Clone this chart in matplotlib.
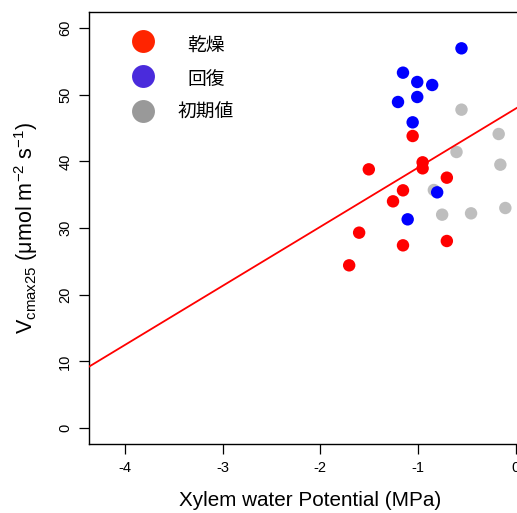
import matplotlib
matplotlib.use("Agg")
import matplotlib.pyplot as plt

# Data
dry_x = [-1.054, -0.952, -0.952, -1.503, -0.704, -1.153, -1.255, -1.602, -1.153, -0.704, -1.704]
dry_y = [43.8, 39.85, 38.95, 38.8, 37.55, 35.65, 34.0, 29.3, 27.4, 28.05, 24.4]

rec_x = [-0.554, -1.153, -1.007, -0.854, -1.007, -1.204, -1.054, -0.803, -1.105]
rec_y = [56.95, 53.3, 51.9, 51.45, 49.65, 48.9, 45.85, 35.35, 31.3]

ini_x = [-0.554, -0.173, -0.605, -0.156, -0.837, -0.752, -0.456, -0.105]
ini_y = [47.75, 44.1, 41.4, 39.5, 35.7, 32.0, 32.2, 33.0]

line_intercept = 47.9
line_slope = 8.86

legend_labels = ["乾燥", "回復", "初期値"]
legend_colors = ["#FF2400", "#4A2BDC", "#999999"]

xticks = [-4, -3, -2, -1, 0]
yticks = [0, 10, 20, 30, 40, 50, 60]

plt.rcParams['font.family'] = ['Liberation Sans', 'DejaVu Sans']

fig = plt.figure(figsize=(5.17, 5.13), dpi=100)
ax = fig.add_axes([89/517, 69/513, (532-89)/517, (444-12)/513])

ax.set_xlim(-4.368, 0.168)
ax.set_ylim(-2.4, 62.4)

ms = 80
ax.scatter(ini_x, ini_y, s=ms, color="#BEBEBE", edgecolors='none', zorder=2)
ax.scatter(rec_x, rec_y, s=ms, color="#0000FF", edgecolors='none', zorder=3)
ax.scatter(dry_x, dry_y, s=ms, color="#FF0000", edgecolors='none', zorder=3)

xl = ax.get_xlim()
ax.plot(xl, [line_intercept + line_slope * xl[0], line_intercept + line_slope * xl[1]],
        color="#FF0000", lw=1.3, zorder=4)

ax.set_xticks(xticks)
ax.set_xticklabels([str(t) for t in xticks], fontsize=10.5)
ax.set_yticks(yticks)
ax.set_yticklabels([str(t) for t in yticks], fontsize=10.5, rotation=90, va='center')
ax.tick_params(direction='out', length=7, width=0.9, pad=5)

for sp in ax.spines.values():
    sp.set_linewidth(1.0)

ax.set_xlabel("Xylem water Potential (MPa)", fontsize=14.9, labelpad=12)
ax.set_ylabel(r"V$_{\mathregular{cmax25}}$ ($\mathregular{\mu}$mol m$^{\mathregular{-2}}$ s$^{\mathregular{-1}}$)", fontsize=15.5, labelpad=13)

# Legend (manual, centered labels)
leg_y = [40.7, 75.7, 111.0]
txt_y = [46.0, 79.5, 112.0]
for lab, col, py, ty in zip(legend_labels, legend_colors, leg_y, txt_y):
    fx = 143.3 / 517
    fig.add_artist(plt.Line2D([fx], [1 - py / 513], marker='o', markersize=16.5, color=col,
                              markeredgewidth=0, linestyle='none', transform=fig.transFigure))
    fig.text(206 / 517, 1 - ty / 513, lab, ha='center', va='center', fontsize=13.5,
             family=['Noto Sans CJK JP', 'DejaVu Sans'])

fig.savefig("out.png", dpi=100)
